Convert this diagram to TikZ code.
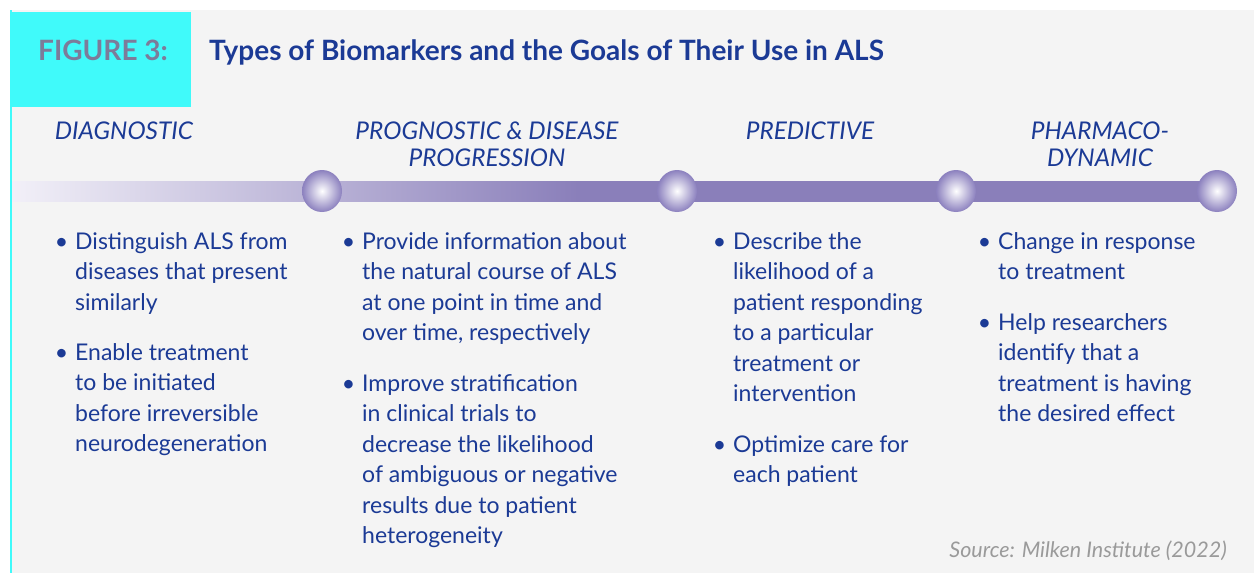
\documentclass[tikz,border=0pt]{standalone}
\usepackage{fontspec}
\setmainfont{Lato}
\usetikzlibrary{positioning,shapes.geometric}
\definecolor{navy}{HTML}{1B3A95}
\definecolor{cyanbox}{HTML}{40FAFA}
\definecolor{panel}{HTML}{F4F4F4}
\definecolor{figgray}{HTML}{7C7C9A}
\definecolor{barpurple}{HTML}{8A7FBA}
\definecolor{ballpurple}{HTML}{8B80BE}
\definecolor{barstartc}{HTML}{F2F0F8}
\definecolor{srcgray}{HTML}{9A9A9A}
\pgfdeclarehorizontalshading{barshade}{100bp}{color(0bp)=(barstartc); color(25bp)=(barstartc); color(48.5bp)=(barpurple); color(100bp)=(barpurple)}
\tikzset{
  head/.style={font=\fontsize{24.4}{27}\selectfont\itshape, text=navy, anchor=base, inner sep=0pt},
  bullet/.style={font=\fontsize{23}{30.5}\selectfont, text=navy, anchor=base west, inner sep=0pt},
  ball/.style={ellipse, minimum width=40pt, minimum height=42pt, inner sep=0pt, inner color=white, outer color=ballpurple, shading=radial}
}
\newcommand{\bul}{\llap{\textbullet\hspace{7pt}}}
\newenvironment{lines}{\begin{tabular}[t]{@{}l@{}}}{\end{tabular}}
\newenvironment{clines}{\begin{tabular}[t]{@{}c@{}}}{\end{tabular}}
\begin{document}
\begin{tikzpicture}[x=1pt,y=-1pt]
  \useasboundingbox (0,0) rectangle (1254,573);
  \fill[white] (0,0) rectangle (1254,573);
  \fill[panel] (10,10) rectangle (1254,573);
  \fill[cyanbox] (10,10) rectangle (12,573);
  \fill[cyanbox] (10,12) rectangle (191,107);

  % title
  \node[anchor=base west, inner sep=0pt, text=figgray, font=\fontsize{28}{32}\selectfont\bfseries] (figlabel) at (38,60) {FIGURE 3:};
  \node[anchor=base west, inner sep=0pt, text=navy, font=\fontsize{28}{32}\selectfont\bfseries] (title) at (209,60) {Types of Biomarkers and the Goals of Their Use in ALS};

  % headings
  \node[head] (hdiag) at (124,139) {DIAGNOSTIC};
  \node[head] (hprog) at (487,139) {\begin{clines}PROGNOSTIC \& DISEASE\\PROGRESSION\end{clines}};
  \node[head] (hpred) at (810,139) {PREDICTIVE};
  \node[head] (hpharm) at (1100,139) {\begin{clines}PHARMACO-\\DYNAMIC\end{clines}};

  % timeline bar
  \shade[shading=barshade] (12,181) rectangle (1217,201);
  \node[ball] (ball1) at (322,191) {};
  \node[ball] (ball2) at (677,191) {};
  \node[ball] (ball3) at (956,191) {};
  \node[ball] (ball4) at (1217,191) {};

  % diagnostic
  \node[bullet] (d1) at (75,249) {\begin{lines}\bul Distinguish ALS from\\diseases that present\\similarly\end{lines}};
  \node[bullet] (d2) at (75,360) {\begin{lines}\bul Enable treatment\\to be initiated\\before irreversible\\neurodegeneration\end{lines}};

  % prognostic
  \node[bullet] (p1) at (362,249) {\begin{lines}\bul Provide information about\\the natural course of ALS\\at one point in time and\\over time, respectively\end{lines}};
  \node[bullet] (p2) at (362,391) {\begin{lines}\bul Improve stratification\\in clinical trials to\\decrease the likelihood\\of ambiguous or negative\\results due to patient\\heterogeneity\end{lines}};

  % predictive
  \node[bullet] (r1) at (733,249) {\begin{lines}\bul Describe the\\likelihood of a\\patient responding\\to a particular\\treatment or\\intervention\end{lines}};
  \node[bullet] (r2) at (733,452) {\begin{lines}\bul Optimize care for\\each patient\end{lines}};

  % pharmacodynamic
  \node[bullet] (m1) at (998,249) {\begin{lines}\bul Change in response\\to treatment\end{lines}};
  \node[bullet] (m2) at (998,330) {\begin{lines}\bul Help researchers\\identify that a\\treatment is having\\the desired effect\end{lines}};

  \node[anchor=base east, inner sep=0pt, text=srcgray, font=\fontsize{21.5}{24}\selectfont\itshape] (source) at (1227,557) {Source: Milken Institute (2022)};
\end{tikzpicture}
\end{document}
